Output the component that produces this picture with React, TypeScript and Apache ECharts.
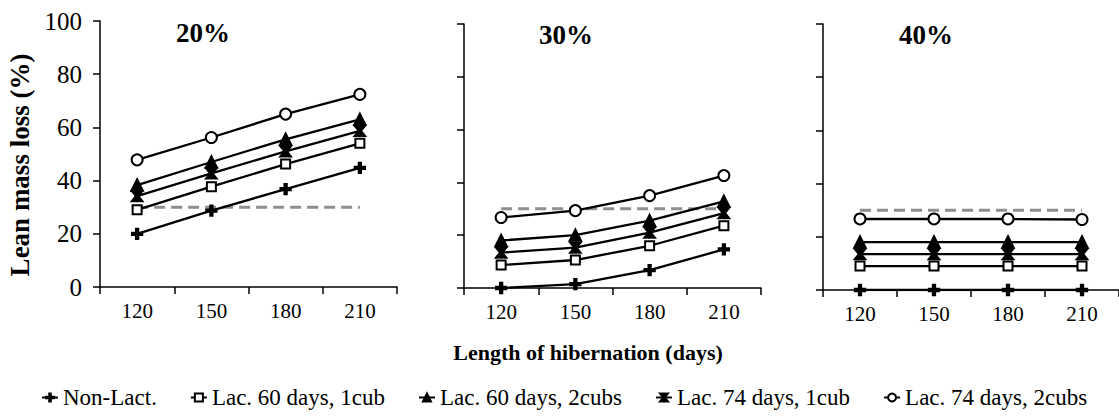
import React, { useEffect, useRef } from "react";
import * as echarts from "echarts";

const categories = ["120", "150", "180", "210"];
const panelTitles = ["20%", "30%", "40%"];
const seriesNames = [
  "Non-Lact.",
  "Lac. 60 days, 1cub",
  "Lac. 60 days, 2cubs",
  "Lac. 74 days, 1cub",
  "Lac. 74 days, 2cubs",
];
const yTicks = [0, 20, 40, 60, 80, 100];
const referenceLevel = [30, 30, 30, 30];

// 20% panel
const p20NonLact = [20, 28.7, 36.8, 44.8];
const p20Lac60One = [29, 37.7, 46.2, 54];
const p20Lac60Two = [38.3, 47, 55.5, 63];
const p20Lac74One = [34.2, 42.7, 51, 58.7];
const p20Lac74Two = [47.8, 56.2, 65, 72.4];
// 30% panel
const p30NonLact = [0, 1.5, 6.8, 14.6];
const p30Lac60One = [8.7, 10.6, 16, 23.6];
const p30Lac60Two = [18, 20, 25.5, 32.8];
const p30Lac74One = [13.4, 15.3, 21, 28.4];
const p30Lac74Two = [26.7, 29.3, 35, 42.6];
// 40% panel
const p40NonLact = [0, 0, 0, 0];
const p40Lac60One = [9, 9, 9, 9];
const p40Lac60Two = [18, 18, 18, 18];
const p40Lac74One = [13.5, 13.5, 13.5, 13.5];
const p40Lac74Two = [26.7, 26.7, 26.7, 26.5];

const panels = [
  [p20NonLact, p20Lac60One, p20Lac60Two, p20Lac74One, p20Lac74Two],
  [p30NonLact, p30Lac60One, p30Lac60Two, p30Lac74One, p30Lac74Two],
  [p40NonLact, p40Lac60One, p40Lac60Two, p40Lac74One, p40Lac74Two],
];

const FONT = "'Liberation Serif', 'Times New Roman', serif";

const plusPath = "path://M4,0H6V4H10V6H6V10H4V6H0V4H4Z";
const starPath =
  "path://M0,0H2L5,4L8,0H10L6,5L10,10H8L5,6L2,10H0L4,5Z M4.3,0H5.7V10H4.3Z";

const symbols = [plusPath, "emptyRect", "triangle", starPath, "emptyCircle"];
const symbolSizes = [10, 9, 11, 10, 11];

const grids = [
  { left: 100, top: 21, width: 297, height: 266 },
  { left: 464, top: 24, width: 297, height: 264 },
  { left: 823, top: 24, width: 297, height: 266 },
];
const titlePos = [
  [203, 33],
  [566, 35],
  [926, 35],
];

export default function App() {
  const ref = useRef<HTMLDivElement>(null);
  useEffect(() => {
    if (!ref.current) return;
    const chart = echarts.init(ref.current, undefined, { renderer: "svg" });
    const xAxis: any[] = [];
    const yAxis: any[] = [];
    const series: any[] = [];
    grids.forEach((_, i) => {
      xAxis.push({
        type: "category",
        gridIndex: i,
        data: categories,
        boundaryGap: true,
        axisLine: { show: true, lineStyle: { color: "#000", width: 1.5 } },
        axisTick: {
          show: true,
          length: 7,
          interval: 0,
          alignWithLabel: false,
          lineStyle: { color: "#000", width: 1.5 },
        },
        axisLabel: {
          color: "#000",
          fontFamily: FONT,
          fontSize: 21,
          margin: 13,
          interval: 0,
        },
        splitLine: { show: false },
      });
      yAxis.push({
        type: "value",
        gridIndex: i,
        min: 0,
        max: 100,
        interval: 20,
        axisLine: { show: true, lineStyle: { color: "#000", width: 1.5 } },
        axisTick: { show: true, length: 7, lineStyle: { color: "#000", width: 1.5 } },
        axisLabel: {
          show: i === 0,
          color: "#000",
          fontFamily: FONT,
          fontSize: 25,
          margin: 18,
          formatter: (v: number) => (yTicks.includes(v) ? String(v) : ""),
        },
        splitLine: { show: false },
      });
      series.push({
        type: "line",
        name: "ref",
        xAxisIndex: i,
        yAxisIndex: i,
        data: referenceLevel,
        showSymbol: false,
        symbol: "none",
        silent: true,
        lineStyle: { color: "#8f8f8f", width: 3, type: [11, 6] },
        z: 1,
      });
      panels[i].forEach((vals, k) => {
        series.push({
          type: "line",
          name: seriesNames[k],
          xAxisIndex: i,
          yAxisIndex: i,
          data: vals,
          symbol: symbols[k],
          symbolSize: symbolSizes[k],
          showSymbol: true,
          lineStyle: { color: "#000", width: 2.3 },
          itemStyle: { color: "#000", borderColor: "#000", borderWidth: 2.3 },
          z: 3,
        });
      });
    });

    const graphic: any[] = titlePos.map((p, i) => ({
      type: "text",
      x: p[0],
      y: p[1],
      style: {
        text: panelTitles[i],
        font: `bold 27px ${FONT}`,
        fill: "#000",
        align: "center",
        verticalAlign: "middle",
      },
    }));
    graphic.push({
      type: "text",
      x: 20,
      y: 165,
      rotation: Math.PI / 2,
      style: {
        text: "Lean mass loss (%)",
        font: `bold 27px ${FONT}`,
        fill: "#000",
        align: "center",
        verticalAlign: "middle",
      },
    });
    graphic.push({
      type: "text",
      x: 588,
      y: 352,
      style: {
        text: "Length of hibernation (days)",
        font: `bold 22px ${FONT}`,
        fill: "#000",
        align: "center",
        verticalAlign: "middle",
      },
    });

    chart.setOption({
      animation: false,
      backgroundColor: "#fff",
      grid: grids,
      xAxis,
      yAxis,
      series,
      graphic,
      legend: {
        data: seriesNames,
        left: 36,
        top: 381,
        itemWidth: 16,
        itemHeight: 10,
        itemGap: 33,
        textStyle: { color: "#000", fontFamily: FONT, fontSize: 23 },
        selectedMode: false,
      },
    });
    return () => chart.dispose();
  }, []);
  return (
    <div
      ref={ref}
      style={{ position: "fixed", left: 0, top: 0, width: 1119, height: 416 }}
    />
  );
}
